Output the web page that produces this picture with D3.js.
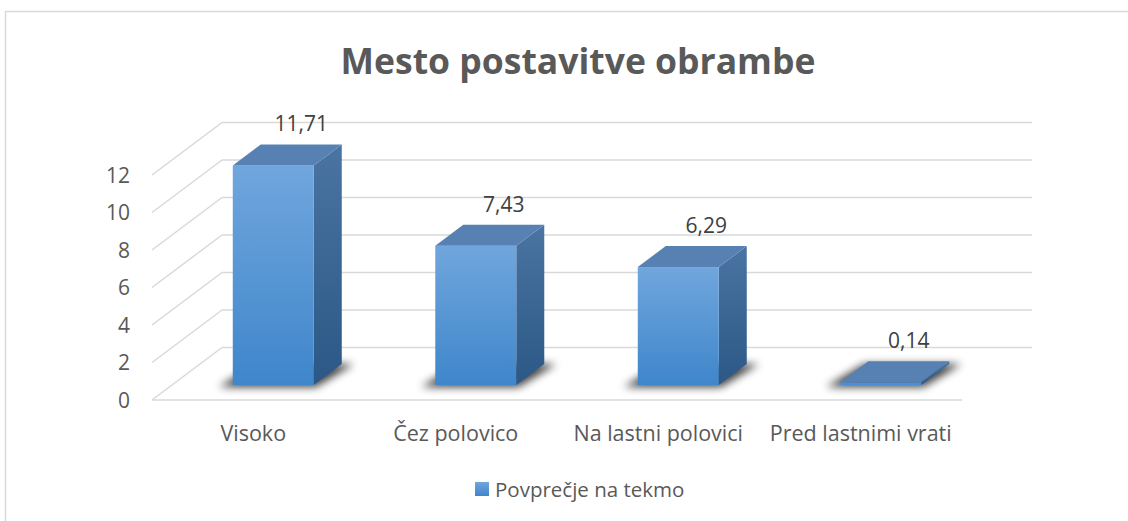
<!DOCTYPE html>
<html>
<head>
<meta charset="utf-8">
<script src="https://cdn.jsdelivr.net/npm/d3@7"></script>
<style>
  body { margin: 0; background: #fff; }
  svg { display: block; font-family: "Open Sans", sans-serif; }
</style>
</head>
<body>
<div id="chart"></div>
<script>
var title = "Mesto postavitve obrambe";
var categories = ["Visoko", "Čez polovico", "Na lastni polovici", "Pred lastnimi vrati"];
var values = [11.71, 7.43, 6.29, 0.14];
var valueLabels = ["11,71", "7,43", "6,29", "0,14"];
var yTicks = [0, 2, 4, 6, 8, 10, 12];
var seriesName = "Povprečje na tekmo";

var width = 1128,
    height = 521,
    floorLeft = 152,
    floorRight = 962,
    depthX = 70,
    depthY = 52.5,
    barFront = 0.286,   // fraction of depth where the bar front sits
    barBack = 0.686;

var xScale = d3.scaleBand()
  .domain(categories)
  .range([floorLeft, floorRight]);

var yScale = d3.scaleLinear()
  .domain([0, 12])
  .range([400, 175]);

var svg = d3.select("#chart").append("svg")
  .attr("width", width)
  .attr("height", height);

var defs = svg.append("defs");

var frontGrad = defs.append("linearGradient")
  .attr("id", "frontGrad").attr("x1", 0).attr("y1", 0).attr("x2", 0).attr("y2", 1);
frontGrad.append("stop").attr("offset", "0%").attr("stop-color", "#70a6dd");
frontGrad.append("stop").attr("offset", "100%").attr("stop-color", "#3f86cb");

var sideGrad = defs.append("linearGradient")
  .attr("id", "sideGrad").attr("x1", 0).attr("y1", 0).attr("x2", 0).attr("y2", 1);
sideGrad.append("stop").attr("offset", "0%").attr("stop-color", "#4a74a1");
sideGrad.append("stop").attr("offset", "100%").attr("stop-color", "#2b5886");

defs.append("filter")
  .attr("id", "blur")
  .attr("x", "-50%").attr("y", "-50%").attr("width", "200%").attr("height", "200%")
  .append("feGaussianBlur").attr("stdDeviation", 4);

// outer frame
svg.append("rect")
  .attr("x", 5.5).attr("y", 11.5)
  .attr("width", 1140).attr("height", 530)
  .attr("fill", "none")
  .attr("stroke", "#d9d9d9")
  .attr("stroke-width", 1.5);

// title
svg.append("text")
  .attr("x", 578).attr("y", 74)
  .attr("text-anchor", "middle")
  .attr("font-size", 35.5)
  .attr("font-weight", "bold")
  .attr("fill", "#595959")
  .text(title);

// walls: back gridlines and side diagonals
var grid = svg.append("g")
  .attr("stroke", "#d9d9d9")
  .attr("stroke-width", 1.5)
  .attr("fill", "none");

grid.selectAll(".back")
  .data(yTicks)
  .enter().append("line")
  .attr("x1", floorLeft + depthX)
  .attr("x2", floorRight + depthX)
  .attr("y1", function(d) { return yScale(d) - depthY; })
  .attr("y2", function(d) { return yScale(d) - depthY; });

grid.selectAll(".side")
  .data(yTicks)
  .enter().append("line")
  .attr("x1", floorLeft)
  .attr("x2", floorLeft + depthX)
  .attr("y1", function(d) { return yScale(d); })
  .attr("y2", function(d) { return yScale(d) - depthY; });

grid.append("line")
  .attr("x1", floorLeft).attr("x2", floorRight)
  .attr("y1", yScale(0)).attr("y2", yScale(0));

// y tick labels
svg.append("g").selectAll("text")
  .data(yTicks)
  .enter().append("text")
  .attr("x", 130)
  .attr("y", function(d) { return yScale(d) + 7.5; })
  .attr("text-anchor", "end")
  .attr("font-size", 21)
  .attr("fill", "#595959")
  .text(function(d) { return d; });

// category labels
svg.append("g").selectAll("text")
  .data(categories)
  .enter().append("text")
  .attr("x", function(d) { return xScale(d) + xScale.bandwidth() / 2; })
  .attr("y", 441)
  .attr("text-anchor", "middle")
  .attr("font-size", 21.5)
  .attr("fill", "#595959")
  .text(function(d) { return d; });

// bars
var barW = xScale.bandwidth() * 0.4,
    fdx = depthX * barFront, fdy = depthY * barFront,
    bdx = depthX * barBack, bdy = depthY * barBack;

var bars = svg.append("g").selectAll("g")
  .data(values)
  .enter().append("g")
  .each(function(v, i) {
    var g = d3.select(this),
        cx = xScale(categories[i]) + xScale.bandwidth() / 2,
        x0 = cx + fdx - barW / 2,
        x1 = x0 + barW,
        ddx = bdx - fdx,
        ddy = bdy - fdy,
        yb = yScale(0) - fdy,
        yt = yScale(v) - fdy;

    // shadow on the floor
    g.append("path")
      .attr("d", "M" + (x0 - 14) + "," + (yb + 2) + "L" + (x1 + 2) + "," + (yb + 2) +
        "L" + (x1 + ddx + 12) + "," + (yb - ddy) + "L" + (x0 + ddx - 4) + "," + (yb - ddy) + "Z")
      .attr("fill", "#000")
      .attr("opacity", 0.75)
      .attr("filter", "url(#blur)");

    // side face
    g.append("path")
      .attr("d", "M" + x1 + "," + yt + "L" + (x1 + ddx) + "," + (yt - ddy) +
        "L" + (x1 + ddx) + "," + (yb - ddy) + "L" + x1 + "," + yb + "Z")
      .attr("fill", "url(#sideGrad)");

    // front face
    g.append("rect")
      .attr("x", x0).attr("y", yt)
      .attr("width", barW)
      .attr("height", Math.max(yb - yt, 1.5))
      .attr("fill", v < 1 ? "#4a90d9" : "url(#frontGrad)");

    // top face
    g.append("path")
      .attr("d", "M" + x0 + "," + yt + "L" + x1 + "," + yt +
        "L" + (x1 + ddx) + "," + (yt - ddy) + "L" + (x0 + ddx) + "," + (yt - ddy) + "Z")
      .attr("fill", "#5881b3");

    // value label
    g.append("text")
      .attr("x", cx + bdx)
      .attr("y", yScale(v) - bdy - 13)
      .attr("text-anchor", "middle")
      .attr("font-size", 21)
      .attr("fill", "#404040")
      .text(valueLabels[i]);
  });

// legend
var legend = svg.append("g");
legend.append("rect")
  .attr("x", 475).attr("y", 482)
  .attr("width", 14).attr("height", 14)
  .attr("fill", "url(#frontGrad)");
legend.append("text")
  .attr("x", 495).attr("y", 497)
  .attr("font-size", 20.5)
  .attr("fill", "#595959")
  .text(seriesName);
</script>
</body>
</html>
